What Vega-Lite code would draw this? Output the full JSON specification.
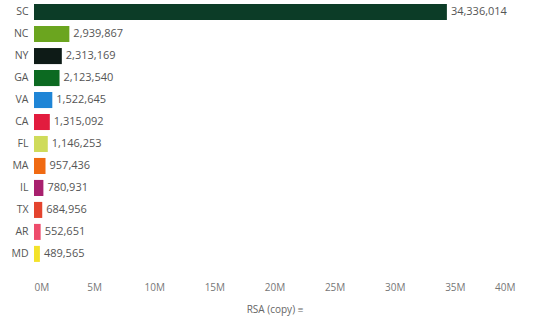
{
  "$schema": "https://vega.github.io/schema/vega-lite/v6.json",
  "width": 481,
  "height": 264,
  "autosize": {"type": "none"},
  "padding": {"left": 34, "top": 1, "right": 22, "bottom": 58},
  "background": "white",
  "data": {
    "values": [
      {"state": "SC", "rsa": 34336014, "color": "#0c3c27"},
      {"state": "NC", "rsa": 2939867, "color": "#6ba51f"},
      {"state": "NY", "rsa": 2313169, "color": "#0e1b17"},
      {"state": "GA", "rsa": 2123540, "color": "#0c6a21"},
      {"state": "VA", "rsa": 1522645, "color": "#1f85d6"},
      {"state": "CA", "rsa": 1315092, "color": "#e21c3e"},
      {"state": "FL", "rsa": 1146253, "color": "#cfdb5a"},
      {"state": "MA", "rsa": 957436, "color": "#f06a12"},
      {"state": "IL", "rsa": 780931, "color": "#a8206e"},
      {"state": "TX", "rsa": 684956, "color": "#e4442e"},
      {"state": "AR", "rsa": 552651, "color": "#ee4c6c"},
      {"state": "MD", "rsa": 489565, "color": "#f3e22a"}
    ]
  },
  "encoding": {
    "y": {
      "field": "state",
      "type": "nominal",
      "sort": {"field": "rsa", "order": "descending"},
      "scale": {"paddingInner": 0.27, "paddingOuter": 0.14},
      "axis": {
        "title": null,
        "ticks": false,
        "domain": false,
        "labelPadding": 6,
        "labelFont": "Open Sans",
        "labelFontSize": 10.5,
        "labelColor": "#555555"
      }
    },
    "x": {
      "field": "rsa",
      "type": "quantitative",
      "scale": {"domain": [0, 40000000], "nice": false},
      "axis": {
        "title": "RSA (copy) ≡",
        "values": [0, 5000000, 10000000, 15000000, 20000000, 25000000, 30000000, 35000000, 40000000],
        "labelExpr": "format(datum.value / 1000000, 'd') + 'M'",
        "grid": false,
        "ticks": false,
        "domain": false,
        "labelPadding": 17,
        "labelFont": "Open Sans",
        "labelFontSize": 10,
        "labelColor": "#777777",
        "titleFont": "Open Sans",
        "titleFontSize": 10,
        "titleFontWeight": "normal",
        "titleColor": "#666666",
        "titlePadding": 12
      }
    }
  },
  "layer": [
    {
      "mark": {"type": "bar"},
      "encoding": {
        "color": {"field": "color", "type": "nominal", "scale": null}
      }
    },
    {
      "mark": {"type": "text", "align": "left", "dx": 4, "font": "Open Sans", "fontSize": 11, "color": "#555555"},
      "encoding": {
        "text": {"field": "rsa", "type": "quantitative", "format": ",d"}
      }
    }
  ],
  "config": {"view": {"stroke": null}}
}
